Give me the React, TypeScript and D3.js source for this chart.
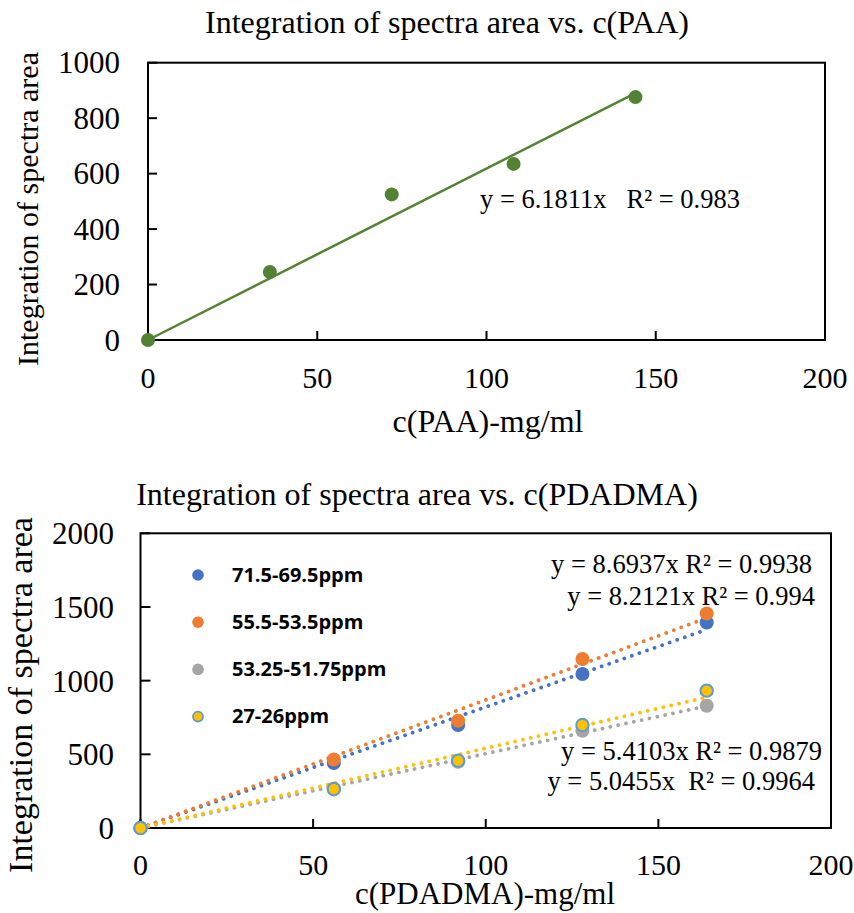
import React from "react";
import * as d3 from "d3";

// ---------- Top chart data ----------
const paaX = [0, 36, 72, 108, 144];
const paaY = [0, 245, 525, 635, 876];
const paaSlope = 6.1811;
const paaEq = "y = 6.1811x   R² = 0.983";
const topXTicks = [0, 50, 100, 150, 200];
const topYTicks = [0, 200, 400, 600, 800, 1000];

// ---------- Bottom chart data ----------
const pdX = [0, 56, 92, 128, 164];
const seriesNames = ["71.5-69.5ppm", "55.5-53.5ppm", "53.25-51.75ppm", "27-26ppm"];
const blueY = [0, 441, 699, 1045, 1395];
const orangeY = [0, 465, 728, 1147, 1456];
const grayY = [0, 262, 450, 660, 830];
const yellowY = [0, 265, 457, 699, 932];
const slopes = [8.2121, 8.6937, 5.0455, 5.4103];
const eqTexts = [
  "y = 8.6937x R² = 0.9938",
  "y = 8.2121x R² = 0.994",
  "y = 5.4103x R² = 0.9879",
  "y = 5.0455x  R² = 0.9964",
];
const botXTicks = [0, 50, 100, 150, 200];
const botYTicks = [0, 500, 1000, 1500, 2000];

const serif = "'Liberation Serif', 'Times New Roman', serif";
const colors = ["#4472C4", "#ED7D31", "#A5A5A5", "#FFC000"];

export default function App() {
  // top scales
  const tx = d3.scaleLinear().domain([0, 200]).range([148, 825]);
  const ty = d3.scaleLinear().domain([0, 1000]).range([340, 62.7]);
  // bottom scales
  const bx = d3.scaleLinear().domain([0, 200]).range([140.5, 831]);
  const by = d3.scaleLinear().domain([0, 2000]).range([828, 533.3]);

  const ys = [blueY, orangeY, grayY, yellowY];
  const line = d3
    .line<[number, number]>()
    .x((d) => d[0])
    .y((d) => d[1]);

  const topTrend = line([
    [tx(0), ty(0)],
    [tx(d3.max(paaX)!), ty(paaSlope * d3.max(paaX)!)],
  ]);

  const eqPos = [
    { x: 812, y: 573 },
    { x: 815, y: 605 },
    { x: 822, y: 760 },
    { x: 815, y: 790 },
  ];

  return (
    <svg
      width={854}
      height={913}
      style={{ position: "absolute", left: 0, top: 0, background: "#fff" }}
      fontFamily={serif}
    >
      <rect x={0} y={0} width={854} height={913} fill="#fff" />

      {/* ================= TOP CHART ================= */}
      <text x={447} y={33} fontSize={32} textAnchor="middle" fill="#000">
        Integration of spectra area vs. c(PAA)
      </text>
      <rect
        x={tx(0)}
        y={ty(1000)}
        width={tx(200) - tx(0)}
        height={ty(0) - ty(1000)}
        fill="none"
        stroke="#000"
        strokeWidth={2}
      />
      {topXTicks.map((t) => (
        <g key={"tx" + t}>
          <line x1={tx(t)} x2={tx(t)} y1={ty(0)} y2={ty(0) - 9} stroke="#000" strokeWidth={2} />
          <text x={tx(t)} y={388} fontSize={30} textAnchor="middle">
            {t}
          </text>
        </g>
      ))}
      {topYTicks.map((t) => (
        <g key={"ty" + t}>
          <line x1={tx(0)} x2={tx(0) + 9} y1={ty(t)} y2={ty(t)} stroke="#000" strokeWidth={2} />
          <text x={120} y={ty(t) + 10.5} fontSize={31} textAnchor="end">
            {t}
          </text>
        </g>
      ))}
      <text x={488} y={432} fontSize={32} textAnchor="middle">
        c(PAA)-mg/ml
      </text>
      <text transform="translate(38,209) rotate(-90)" fontSize={30} textAnchor="middle">
        Integration of spectra area
      </text>
      <path d={topTrend || ""} stroke="#548235" strokeWidth={2.5} fill="none" />
      {paaX.map((x, i) => (
        <circle key={"p" + i} cx={tx(x)} cy={ty(paaY[i])} r={7} fill="#548235" />
      ))}
      <text x={480} y={208} fontSize={26.5} textAnchor="start" style={{ whiteSpace: "pre" }} xmlSpace="preserve">
        {paaEq}
      </text>

      {/* ================= BOTTOM CHART ================= */}
      <text x={417} y={505} fontSize={32} textAnchor="middle">
        Integration of spectra area vs. c(PDADMA)
      </text>
      <rect
        x={bx(0)}
        y={by(2000)}
        width={bx(200) - bx(0)}
        height={by(0) - by(2000)}
        fill="none"
        stroke="#000"
        strokeWidth={2}
      />
      {botXTicks.map((t) => (
        <g key={"bx" + t}>
          <line x1={bx(t)} x2={bx(t)} y1={by(0)} y2={by(0) - 9} stroke="#000" strokeWidth={2} />
          <text x={bx(t)} y={875} fontSize={30} textAnchor="middle">
            {t}
          </text>
        </g>
      ))}
      {botYTicks.map((t) => (
        <g key={"by" + t}>
          <line x1={bx(0)} x2={bx(0) + 10} y1={by(t)} y2={by(t)} stroke="#000" strokeWidth={2} />
          <text x={114} y={by(t) + 11} fontSize={31} textAnchor="end">
            {t}
          </text>
        </g>
      ))}
      <text x={485} y={904} fontSize={31} textAnchor="middle">
        c(PDADMA)-mg/ml
      </text>
      <text transform="translate(32,695) rotate(-90)" fontSize={34} textAnchor="middle">
        Integration of spectra area
      </text>

      {/* trendlines */}
      {slopes.map((s, i) => {
        const xm = d3.max(pdX)!;
        const d = line([
          [bx(0), by(0)],
          [bx(xm), by(s * xm)],
        ]);
        return (
          <path
            key={"tr" + i}
            d={d || ""}
            stroke={colors[i]}
            strokeWidth={3.8}
            strokeLinecap="round"
            strokeDasharray="0.01 8"
            fill="none"
          />
        );
      })}

      {/* markers */}
      {ys.map((arr, si) =>
        arr.map((v, i) => (
          <circle
            key={"m" + si + "-" + i}
            cx={bx(pdX[i])}
            cy={by(v)}
            r={si === 3 ? 6.2 : 7}
            fill={colors[si]}
            stroke={si === 3 ? "#5B9BD5" : "none"}
            strokeWidth={si === 3 ? 2 : 0}
          />
        ))
      )}

      {/* legend */}
      {seriesNames.map((n, i) => {
        const cy = 575 + i * 47.2;
        return (
          <g key={"lg" + i}>
            <circle
              cx={198}
              cy={cy}
              r={i === 3 ? 5 : 5.8}
              fill={colors[i]}
              stroke={i === 3 ? "#5B9BD5" : "none"}
              strokeWidth={i === 3 ? 1.8 : 0}
            />
            <text
              x={232}
              y={cy + 6.5}
              fontSize={20}
              fontWeight="bold"
              fontFamily="'Open Sans', 'Noto Sans', sans-serif"
              fill="#000"
            >
              {n}
            </text>
          </g>
        );
      })}

      {/* equations */}
      {eqTexts.map((t, i) => (
        <text
          key={"eq" + i}
          x={eqPos[i].x}
          y={eqPos[i].y}
          fontSize={26.5}
          textAnchor="end"
          style={{ whiteSpace: "pre" }}
          xmlSpace="preserve"
        >
          {t}
        </text>
      ))}
    </svg>
  );
}
